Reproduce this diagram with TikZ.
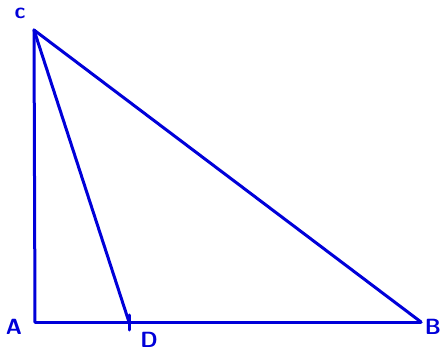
\documentclass[tikz,border=0pt]{standalone}
\usepackage{tikz}
\usetikzlibrary{positioning}
\tikzset{
  side/.style={draw=blue!85!black,line width=3pt,line cap=round},
  ptlabel/.style={text=blue!85!black,font=\fontsize{22}{22}\selectfont\sffamily\bfseries,inner sep=0pt}
}
\begin{document}
\begin{tikzpicture}[x=1pt,y=-1pt]
          \useasboundingbox (0,0) rectangle (444,352);
          %% vertices of the right triangle
          \coordinate (A) at (35,322);
          \coordinate (B) at (421,322);
          \coordinate (C) at (34,30);
          \coordinate (D) at (129,322);
          \coordinate (Dtop) at (129,315);
          \coordinate (Dbot) at (129,330);
          \draw[side](A)--(B);\draw[side](B)--(C);\draw[side](C)--(A);
          \draw[side](C)--(D);\draw[side](Dtop)--(Dbot);
          %% labels
          \node[ptlabel] (lC) at (20,13) {c};
          \node[ptlabel] (lA) at (14,327) {A};
          \node[ptlabel] (lD) at (149,340) {D};
          \node[ptlabel] (lB) at (433,327) {B};
        \end{tikzpicture}
\end{document}
